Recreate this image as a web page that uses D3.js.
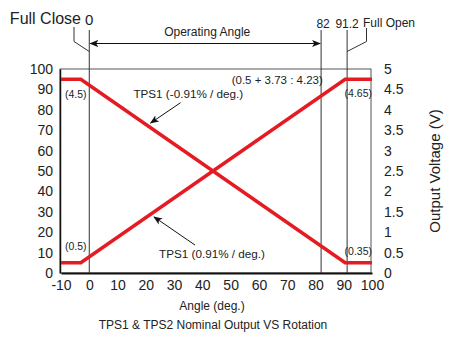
<!DOCTYPE html>
<html>
<head>
<meta charset="utf-8">
<script src="https://cdn.jsdelivr.net/npm/d3@7"></script>
<style>
  body { margin: 0; background: #fff; }
  text { font-family: "Liberation Sans", Arial, Helvetica, sans-serif; fill: #222; }
</style>
</head>
<body>
<div id="chart"></div>
<script>
// angle (deg.) and output (% of 5 V)
const angles = [-10, -3, 90.5, 100];
const tps1Rising = [5, 5, 95, 95];
const tps1Falling = [95, 95, 5, 5];

const xTicks = [-10, 0, 10, 20, 30, 40, 50, 60, 70, 80, 90, 100];
const pctTicks = [0, 10, 20, 30, 40, 50, 60, 70, 80, 90, 100];
const voltTicks = [0, 0.5, 1, 1.5, 2, 2.5, 3, 3.5, 4, 4.5, 5];

// reference angles marked at the top
const markAngles = [0, 82, 91.2];
const markLabels = ["0", "82", "91.2"];

const width = 455, height = 341;

const svg = d3.select("#chart")
    .append("svg")
    .attr("width", width)
    .attr("height", height);

// 比例尺
const x = d3.scaleLinear().domain([-10, 100]).range([61, 372]);
const y = d3.scaleLinear().domain([0, 100]).range([273, 69]);
const yV = d3.scaleLinear().domain([0, 5]).range([273, 69]);

// arrow markers
const defs = svg.append("defs");
defs.append("marker")
    .attr("id", "arrow")
    .attr("viewBox", "0 0 10 10")
    .attr("refX", 9).attr("refY", 5)
    .attr("markerWidth", 9).attr("markerHeight", 9)
    .attr("markerUnits", "userSpaceOnUse")
    .attr("orient", "auto-start-reverse")
    .append("path")
    .attr("d", "M0,1 L10,5 L0,9 L2.5,5 Z")
    .attr("fill", "#111");

// frame
svg.append("rect")
    .attr("x", x(-10) - 1).attr("y", y(100))
    .attr("width", x(100) - x(-10)).attr("height", y(0) - y(100))
    .attr("fill", "none")
    .attr("stroke", "#555")
    .attr("stroke-width", 1);

// axes (no tick marks, just labels)
const xAxis = svg.append("g")
    .attr("transform", `translate(0,${y(0)})`)
    .call(d3.axisBottom(x).tickValues(xTicks).tickSize(0).tickPadding(7).tickFormat(d => String(d)));
xAxis.select(".domain").attr("stroke", "#111").attr("stroke-width", 2);
xAxis.selectAll("text").style("font-size", "14px").attr("fill", "#222");

const yAxis = svg.append("g")
    .attr("transform", `translate(${x(-10) - 1},0)`)
    .call(d3.axisLeft(y).tickValues(pctTicks).tickSize(0).tickPadding(7));
yAxis.select(".domain").attr("stroke", "#111").attr("stroke-width", 1.5);
yAxis.selectAll("text").style("font-size", "14px").attr("fill", "#222");

const yAxisR = svg.append("g")
    .attr("transform", `translate(${x(100) - 1},0)`)
    .call(d3.axisRight(yV).tickValues(voltTicks).tickSize(0).tickPadding(13).tickFormat(d => d));
yAxisR.select(".domain").remove();
yAxisR.selectAll("text").style("font-size", "14px").attr("fill", "#222");

// vertical reference lines
svg.selectAll(".mark-line")
    .data(markAngles)
    .join("line")
    .attr("class", "mark-line")
    .attr("x1", d => x(d)).attr("x2", d => x(d))
    .attr("y1", 30).attr("y2", y(0))
    .attr("stroke", "#333")
    .attr("stroke-width", 1);

svg.append("text")
    .attr("x", x(0)).attr("y", 25)
    .attr("text-anchor", "middle")
    .style("font-size", "15px")
    .text(markLabels[0]);
svg.append("text")
    .attr("x", x(82) + 2).attr("y", 28)
    .attr("text-anchor", "middle")
    .style("font-size", "12px")
    .text(markLabels[1]);
svg.append("text")
    .attr("x", x(91.2)).attr("y", 28)
    .attr("text-anchor", "middle")
    .style("font-size", "12px")
    .text(markLabels[2]);

svg.append("text")
    .attr("x", 81).attr("y", 24)
    .attr("text-anchor", "end")
    .style("font-size", "16px")
    .text("Full Close");
svg.append("path")
    .attr("d", `M74,27 L74,41.5 L${x(0)},51.5`)
    .attr("fill", "none").attr("stroke", "#333");

svg.append("text")
    .attr("x", 363).attr("y", 27)
    .style("font-size", "12px")
    .text("Full Open");
svg.append("path")
    .attr("d", `M366.5,28 L366.5,41.5 L${x(91.2)},51.5`)
    .attr("fill", "none").attr("stroke", "#333");

// operating angle arrow
svg.append("line")
    .attr("x1", x(0) + 1).attr("x2", x(82) - 1)
    .attr("y1", 43.5).attr("y2", 43.5)
    .attr("stroke", "#111")
    .attr("marker-start", "url(#arrow)")
    .attr("marker-end", "url(#arrow)");
svg.append("text")
    .attr("x", (x(0) + x(82)) / 2 + 2).attr("y", 36)
    .attr("text-anchor", "middle")
    .style("font-size", "12px")
    .text("Operating Angle");

// 红色输出曲线
const line = d3.line()
    .x(d => x(d[0]))
    .y(d => y(d[1]));

[tps1Rising, tps1Falling].forEach(series => {
    svg.append("path")
        .datum(angles.map((a, i) => [a, series[i]]))
        .attr("d", line)
        .attr("fill", "none")
        .attr("stroke", "#e51b23")
        .attr("stroke-width", 3.5)
        .attr("stroke-linejoin", "miter");
});

// annotations
const notes = [
    {t: "(4.5)", a: -8.6, p: 86, anchor: "start", size: 10.5},
    {t: "(0.5)", a: -8.6, p: 11.3, anchor: "start", size: 10.5},
    {t: "(4.65)", a: 100, p: 86.4, anchor: "end", size: 10.5},
    {t: "(0.35)", a: 100, p: 8.8, anchor: "end", size: 10.5},
    {t: "(0.5 + 3.73 : 4.23)", a: 82.6, p: 92.6, anchor: "end", size: 11.5},
    {t: "TPS1 (-0.91% / deg.)", a: 15.6, p: 85.6, anchor: "start", size: 11.7},
    {t: "TPS1 (0.91% / deg.)", a: 24.7, p: 7.2, anchor: "start", size: 11.7}
];
svg.selectAll(".note")
    .data(notes)
    .join("text")
    .attr("class", "note")
    .attr("x", d => x(d.a)).attr("y", d => y(d.p))
    .attr("text-anchor", d => d.anchor)
    .style("font-size", d => d.size + "px")
    .text(d => d.t);

// pointer arrows
const pointers = [
    [[32.3, 83.5], [21.7, 73.5]],
    [[37.4, 13.7], [22.9, 27.5]]
];
svg.selectAll(".pointer")
    .data(pointers)
    .join("line")
    .attr("class", "pointer")
    .attr("x1", d => x(d[0][0])).attr("y1", d => y(d[0][1]))
    .attr("x2", d => x(d[1][0])).attr("y2", d => y(d[1][1]))
    .attr("stroke", "#111")
    .attr("marker-end", "url(#arrow)");

// axis titles
svg.append("text")
    .attr("x", 212).attr("y", 310)
    .attr("text-anchor", "middle")
    .style("font-size", "12px")
    .text("Angle (deg.)");
svg.append("text")
    .attr("x", 213).attr("y", 329)
    .attr("text-anchor", "middle")
    .style("font-size", "12px")
    .text("TPS1 & TPS2 Nominal Output VS Rotation");
svg.append("text")
    .attr("transform", `translate(440,${(y(0) + y(100)) / 2}) rotate(-90)`)
    .attr("text-anchor", "middle")
    .style("font-size", "15px")
    .text("Output Voltage (V)");
</script>
</body>
</html>
